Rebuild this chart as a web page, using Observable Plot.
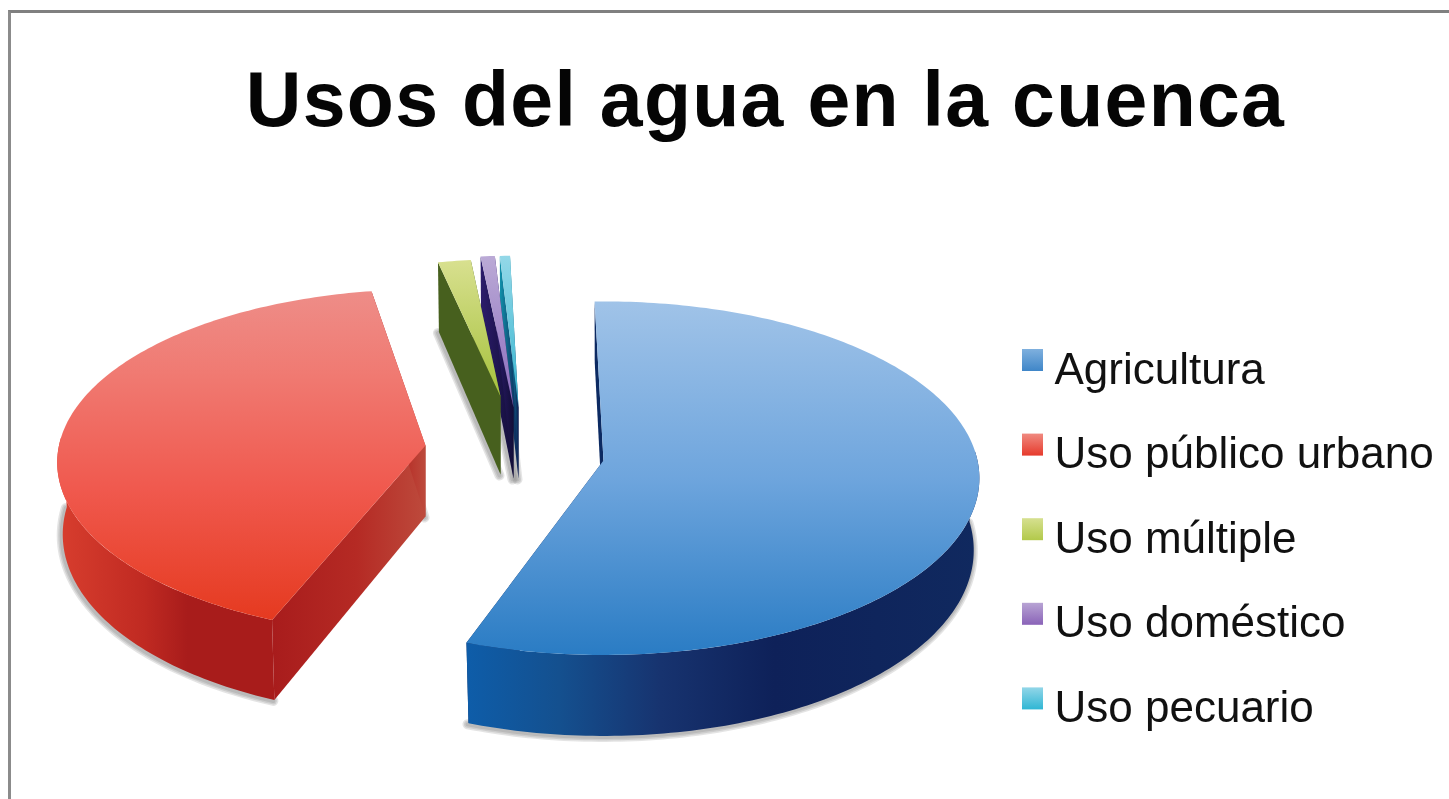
<!DOCTYPE html>
<html lang="es">
<head>
<meta charset="utf-8">
<script src="https://cdn.jsdelivr.net/npm/d3@7"></script>
<script src="https://cdn.jsdelivr.net/npm/@observablehq/plot@0.6"></script>
<style>
html,body{margin:0;padding:0;background:#fff;width:1449px;height:799px;overflow:hidden}
#frame{position:absolute;left:8px;top:10px;right:0;bottom:0;border-left:3px solid #8b8b8b;border-top:3px solid #808080;pointer-events:none}
#title{height:180px;box-sizing:border-box;padding-top:55px;text-align:center;font:bold 77px/88px "Liberation Sans",Arial,sans-serif;letter-spacing:1.3px;color:#050505;padding-left:82px;filter:blur(.7px)}
#chart svg{display:block;filter:blur(.7px)}
</style>
</head>
<body>
<div id="frame"></div>
<div id="title">Usos del agua en la cuenca</div>
<div id="chart"></div>
<script>
// --- data ---
const categories = ["Agricultura", "Uso público urbano", "Uso múltiple", "Uso doméstico", "Uso pecuario"];
const values = [55.8, 41.2, 1.8, 0.7, 0.5];

// --- pie styling and exploded layout ---
const startAngle = -1.5;
const apexX = [603, 425, 500, 513, 518];
const apexY = [460, 445, 396, 407, 407];
const radii = [1, 0.98, 0.85, 0.95, 0.95];
const turn = [0, 3, 0, 0, 0];
const depth = [71, 71, 78, 71, 71];
const faceStops = [
  [["0%","#a0c3e8"],["50%","#6ea5dd"],["100%","#2a7cc4"]],
  [["0%","#ee8d88"],["25%","#f07a72"],["60%","#f0594e"],["100%","#e53a20"]],
  [["0%","#d8e08f"],["100%","#a5c13c"]],
  [["0%","#bbaad6"],["100%","#8a6bbd"]],
  [["0%","#93d8e8"],["100%","#33b3ce"]]
];
const wallStops = [
  [["0%","#0e5da9"],["18%","#14508f"],["38%","#17336f"],["60%","#0e2159"],["100%","#10295f"]],
  [["0%","#d83e2e"],["40%","#c02a22"],["60%","#a81c1b"],["100%","#a81c1b"]],
  [["0%","#47601e"],["100%","#47601e"]],
  [["0%","#2c1c6c"],["100%","#120e38"]],
  [["0%","#1192ab"],["100%","#0d1e52"]]
];
const edgeStops = [
  [["0%","#0c2a62"],["100%","#0c2a62"]],
  [["0%","#a81c1c"],["55%","#b52a24"],["100%","#bd4a3c"]],
  [["0%","#47601e"],["100%","#47601e"]],
  [["0%","#2c1c6c"],["100%","#120e38"]],
  [["0%","#1192ab"],["100%","#0d1e52"]]
];
const swatchStops = [
  [["0%","#7fb0de"],["100%","#3f86c8"]],
  [["0%","#f08a80"],["100%","#e63a2c"]],
  [["0%","#d6e090"],["100%","#b2c94a"]],
  [["0%","#b8a4d4"],["100%","#8a63b8"]],
  [["0%","#92d6e8"],["100%","#2fb6d4"]]
];
const R = 374, Q = 175, K = 0.1, bottomShrink = 0.985;
const shadowWidths = [10, 7, 4];

const total = d3.sum(values);
let cum = startAngle;
const slices = values.map((v, i) => {
  const a0 = cum, a1 = cum + v / total * 360;
  cum = a1;
  return {i, a0: a0 + turn[i], a1: a1 + turn[i]};
});
const rad = d => d * Math.PI / 180;
function pt(i, a, r, low) {
  const u = Math.sin(rad(a)) * r, w = -Math.cos(rad(a)) * r;
  const s = 1 / (1 - K * w);
  const dz = low ? depth[i] + 10 * w : 0;
  return [apexX[i] + R * u * s * (low ? bottomShrink : 1), apexY[i] + Q * w * s + dz];
}
function arc(i, a0, a1, low) {
  const out = [], n = Math.max(2, Math.ceil(Math.abs(a1 - a0)));
  for (let k = 0; k <= n; k++) out.push(pt(i, a0 + (a1 - a0) * k / n, radii[i], low));
  return out;
}
const apex = (i, low) => pt(i, 0, 0, low);
const facePoly = s => [apex(s.i), ...arc(s.i, s.a0, s.a1, false)];
const edgePoly = (s, a) => [apex(s.i), pt(s.i, a, radii[s.i], false), pt(s.i, a, radii[s.i], true), apex(s.i, true)];
const frontAngles = s => {
  const list = [s.a0, ...d3.range(Math.ceil(s.a0), Math.floor(s.a1) + 1), s.a1].filter(a => -Math.cos(rad(a)) > -0.06);
  return list.length ? [list[0], list[list.length - 1]] : null;
};
function outerPoly(s) {
  const f = frontAngles(s);
  return f ? [...arc(s.i, f[0], f[1], false), ...arc(s.i, f[1], f[0], true)] : [];
}
const poly = (points, fill) =>
  Plot.line(points, {x: d => d[0], y: d => d[1], fill, stroke: "none", curve: "linear"});
// soft shadow: translucent strokes under the lower edges only
const shadow = points => shadowWidths.map(w => Plot.line(points, {
  x: d => d[0] - 1, y: d => d[1] + 1,
  stroke: "#555", strokeOpacity: 0.16, strokeWidth: w, fill: "none", strokeLinecap: "round"
}));

function gradient(id, stops, horizontal) {
  const g = document.createElementNS("http://www.w3.org/2000/svg", "linearGradient");
  g.setAttribute("id", id);
  g.setAttribute("x1", "0"); g.setAttribute("y1", "0");
  g.setAttribute("x2", horizontal ? "1" : "0"); g.setAttribute("y2", horizontal ? "0" : "1");
  for (const [o, c] of stops) {
    const st = document.createElementNS("http://www.w3.org/2000/svg", "stop");
    st.setAttribute("offset", o); st.setAttribute("stop-color", c);
    g.appendChild(st);
  }
  return g;
}
const defsMark = () => {
  const d = document.createElementNS("http://www.w3.org/2000/svg", "defs");
  categories.forEach((_, i) => {
    d.appendChild(gradient("face" + i, faceStops[i], false));
    d.appendChild(gradient("wall" + i, wallStops[i], true));
    d.appendChild(gradient("edge" + i, edgeStops[i], true));
    d.appendChild(gradient("swatch" + i, swatchStops[i], false));
  });
  return d;
};

const order = [0, 1, 4, 3, 2];
const marks = [defsMark];
for (const i of order) {
  const s = slices[i];
  const f = frontAngles(s);
  if (f) marks.push(...shadow(arc(i, f[0], f[1], true)));
  // the lower edge of the wall that faces the viewer
  const a = i === 1 ? s.a1 : s.a0;
  if (i !== 0) marks.push(...shadow([pt(i, a, radii[i], true), apex(i, true)]));
}
for (const i of order) {
  const s = slices[i];
  marks.push(poly(edgePoly(s, s.a0), `url(#edge${i})`));
  marks.push(poly(edgePoly(s, s.a1), `url(#edge${i})`));
  const o = outerPoly(s);
  if (o.length) marks.push(poly(o, `url(#wall${i})`));
  marks.push(poly(facePoly(s), `url(#face${i})`));
}

// legend
const legendY = i => 360 + i * 84.6;
categories.forEach((c, i) => {
  marks.push(Plot.rect([c], {
    x1: () => 1022, x2: () => 1043,
    y1: () => legendY(i) - 11, y2: () => legendY(i) + 11,
    fill: `url(#swatch${i})`
  }));
});
marks.push(Plot.text(categories, {
  x: () => 1054, y: (d, i) => legendY(i) + 9,
  text: d => d, textAnchor: "start", lineAnchor: "middle",
  fontSize: 44, fill: "#111", fontFamily: '"Liberation Sans",Arial,sans-serif'
}));

document.getElementById("chart").appendChild(Plot.plot({
  width: 1449, height: 619,
  marginTop: 0, marginRight: 0, marginBottom: 0, marginLeft: 0,
  x: {domain: [0, 1449], range: [0, 1449], axis: null},
  y: {domain: [180, 799], range: [0, 619], axis: null},
  marks
}));
</script>
</body>
</html>
